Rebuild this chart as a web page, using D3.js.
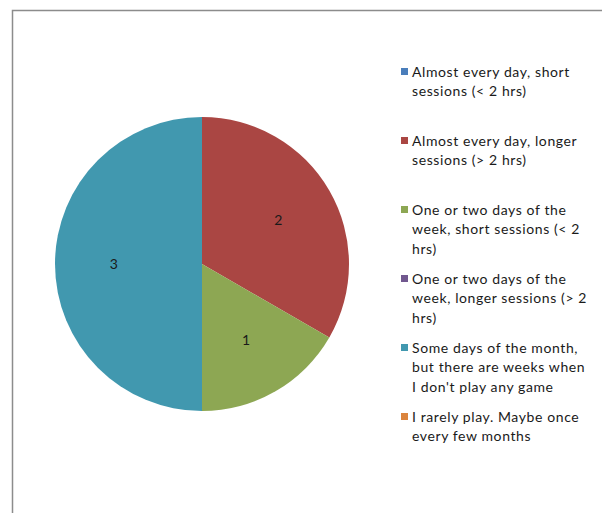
<!DOCTYPE html>
<html>
<head>
<meta charset="utf-8">
<script src="https://cdn.jsdelivr.net/npm/d3@7"></script>
<style>
  body { margin: 0; background: #fff; }
  text { font-family: Lato, "Open Sans", sans-serif; }
</style>
</head>
<body>
<div id="vis-container"></div>
<script>
// data (line breaks as in the legend)
const categories = [
    "Almost every day, short\nsessions (< 2 hrs)",
    "Almost every day, longer\nsessions (> 2 hrs)",
    "One or two days of the\nweek, short sessions (< 2\nhrs)",
    "One or two days of the\nweek, longer sessions (> 2\nhrs)",
    "Some days of the month,\nbut there are weeks when\nI don't play any game",
    "I rarely play. Maybe once\nevery few months"
]
const values = [0, 2, 1, 0, 3, 0]
const colors = ["#4A7EBB", "#AA4643", "#8DA753", "#71588F", "#4198AF", "#DB843D"]

const svgWidth = 602
const svgHeight = 513

const svg = d3.select('#vis-container')
    .append('svg')
    .attr('width', svgWidth)
    .attr('height', svgHeight)

// chart frame (top + left edge visible)
svg.append('path')
    .attr('d', `M12.5,${svgHeight} V10.5 H${svgWidth}`)
    .attr('fill', 'none')
    .attr('stroke', '#8c8c8c')
    .attr('stroke-width', 1.5)

// pie
const cx = 202, cy = 264, radius = 147

const color = d3.scaleOrdinal().domain(categories).range(colors)

const pie = d3.pie().sort(null).value(d => d.value)
const data = categories.map((c, i) => ({ name: c, value: values[i] }))
const arcs = pie(data)

const arc = d3.arc().innerRadius(0).outerRadius(radius)
const labelArc = d3.arc().innerRadius(radius * 0.6).outerRadius(radius * 0.6)

const g = svg.append('g').attr('transform', `translate(${cx},${cy})`)

g.selectAll('path')
    .data(arcs.filter(d => d.data.value > 0))
    .join('path')
    .attr('d', arc)
    .attr('fill', d => color(d.data.name))

g.selectAll('text')
    .data(arcs.filter(d => d.data.value > 0))
    .join('text')
    .attr('transform', d => `translate(${labelArc.centroid(d)})`)
    .attr('text-anchor', 'middle')
    .attr('dy', '0.35em')
    .attr('font-size', 14)
    .attr('fill', '#1a1a1a')
    .text(d => d.data.value)

// legend
const legendX = 401, legendY = 72, entryGap = 69, lineH = 19.5

const legend = svg.append('g')
    .selectAll('g')
    .data(categories)
    .join('g')
    .attr('transform', (d, i) => `translate(${legendX},${legendY + i * entryGap})`)

legend.append('rect')
    .attr('x', 0).attr('y', -4)
    .attr('width', 7).attr('height', 7)
    .attr('fill', d => color(d))

legend.append('text')
    .attr('font-size', 14)
    .attr('letter-spacing', 0.6)
    .attr('fill', '#1a1a1a')
    .selectAll('tspan')
    .data(d => d.split('\n'))
    .join('tspan')
    .attr('x', 11)
    .attr('y', (d, i) => i * lineH)
    .attr('dy', '0.35em')
    .text(d => d)
</script>
</body>
</html>
